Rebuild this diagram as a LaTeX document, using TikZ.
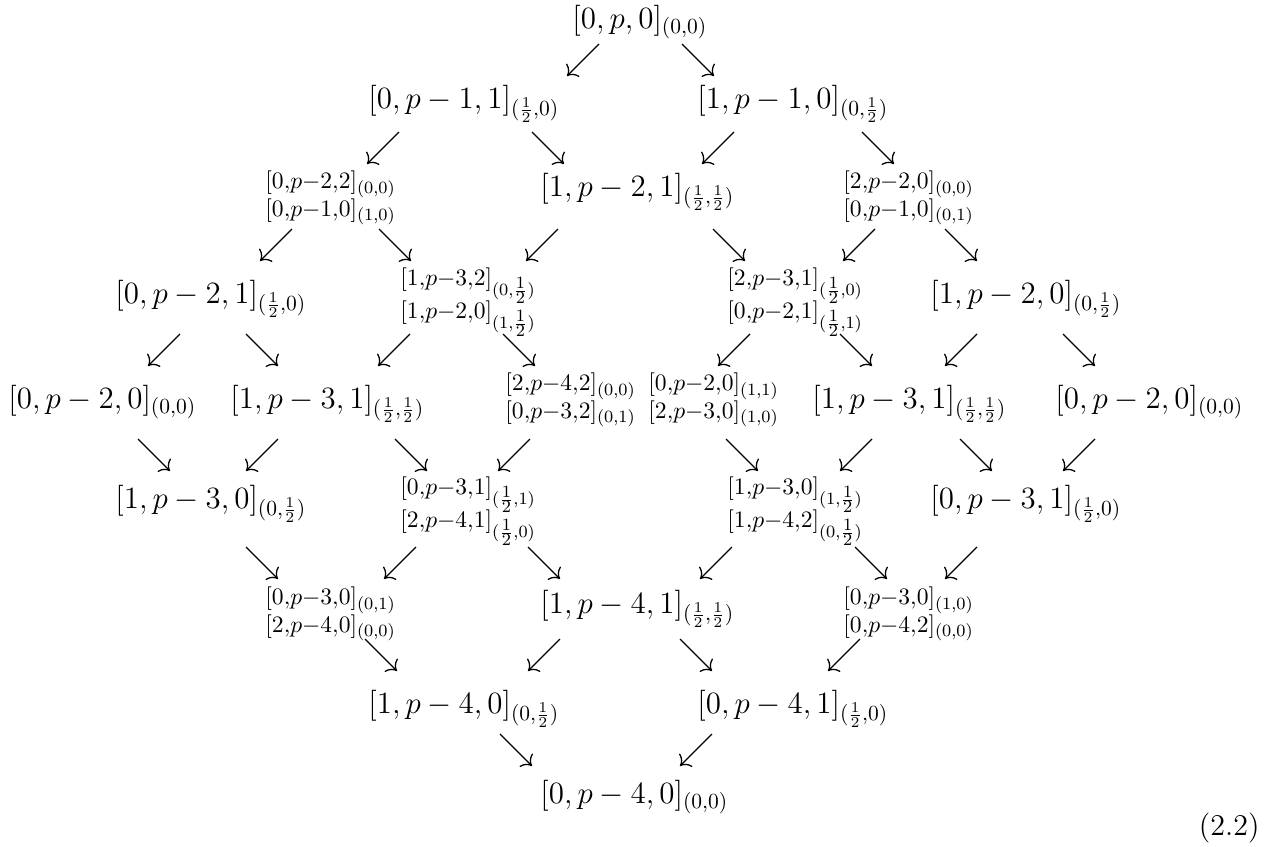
\documentclass[tikz,border=0pt]{standalone}
\usepackage{amsmath}
\usepackage{fontspec}
\usetikzlibrary{arrows.meta}
\DeclareMathSizes{15.5}{15.5}{10.95}{8}

\begin{document}
\begin{tikzpicture}[x=0.465pt,y=0.465pt,yscale=-1]
\tikzset{
  ent/.style={anchor=base west, inner sep=0pt, font=\Large},
  pair/.style={anchor=west, inner sep=0pt, align=left,
    font=\fontsize{15.5}{12.8}\selectfont,
    execute at begin node={\lineskiplimit=-20pt\relax}},
  pairf/.style={pair, font=\fontsize{15.5}{15.2}\selectfont},
  arr/.style={-{To[scale=1.4]}, line width=0.6pt}
}
\useasboundingbox (0,0) rectangle (1274,846);

% Text Node
\draw (572,28) node (t) [ent] {$[0,p,0]_{(0,0)}$};
% Text Node
\draw (368,108) node (a1) [ent] {$[0,p-1,1]_{(\frac12,0)}$};
% Text Node
\draw (697,108) node (a2) [ent] {$[1,p-1,0]_{(0,\frac12)}$};
% Text Node
\draw (265,198) node (b1) [pair] {$\scriptstyle[0,p-2,2]_{(0,0)}$\\$\scriptstyle[0,p-1,0]_{(1,0)}$};
% Text Node
\draw (540,196) node (b2) [ent] {$[1,p-2,1]_{(\frac12,\frac12)}$};
% Text Node
\draw (843,198) node (b3) [pair] {$\scriptstyle[2,p-2,0]_{(0,0)}$\\$\scriptstyle[0,p-1,0]_{(0,1)}$};
% Text Node
\draw (115,303) node (c1) [ent] {$[0,p-2,1]_{(\frac12,0)}$};
% Text Node
\draw (400,302) node (c2) [pairf] {$\scriptstyle[1,p-3,2]_{(0,\frac12)}$\\$\scriptstyle[1,p-2,0]_{(1,\frac12)}$};
% Text Node
\draw (727,302) node (c3) [pairf] {$\scriptstyle[2,p-3,1]_{(\frac12,0)}$\\$\scriptstyle[0,p-2,1]_{(\frac12,1)}$};
% Text Node
\draw (930,303) node (c4) [ent] {$[1,p-2,0]_{(0,\frac12)}$};
% Text Node
\draw (8,408) node (d1) [ent] {$[0,p-2,0]_{(0,0)}$};
% Text Node
\draw (230,408) node (d2) [ent] {$[1,p-3,1]_{(\frac12,\frac12)}$};
% Text Node
\draw (505,400) node (d3) [pair] {$\scriptstyle[2,p-4,2]_{(0,0)}$\\$\scriptstyle[0,p-3,2]_{(0,1)}$};
% Text Node
\draw (648,400) node (d4) [pair] {$\scriptstyle[0,p-2,0]_{(1,1)}$\\$\scriptstyle[2,p-3,0]_{(1,0)}$};
% Text Node
\draw (812,408) node (d5) [ent] {$[1,p-3,1]_{(\frac12,\frac12)}$};
% Text Node
\draw (1055,408) node (d6) [ent] {$[0,p-2,0]_{(0,0)}$};
% Text Node
\draw (115,508) node (e1) [ent] {$[1,p-3,0]_{(0,\frac12)}$};
% Text Node
\draw (400,511) node (e2) [pairf] {$\scriptstyle[0,p-3,1]_{(\frac12,1)}$\\$\scriptstyle[2,p-4,1]_{(\frac12,0)}$};
% Text Node
\draw (727,511) node (e3) [pairf] {$\scriptstyle[1,p-3,0]_{(1,\frac12)}$\\$\scriptstyle[1,p-4,2]_{(0,\frac12)}$};
% Text Node
\draw (930,508) node (e4) [ent] {$[0,p-3,1]_{(\frac12,0)}$};
% Text Node
\draw (265,614) node (f1) [pair] {$\scriptstyle[0,p-3,0]_{(0,1)}$\\$\scriptstyle[2,p-4,0]_{(0,0)}$};
% Text Node
\draw (540,613) node (f2) [ent] {$[1,p-4,1]_{(\frac12,\frac12)}$};
% Text Node
\draw (843,614) node (f3) [pair] {$\scriptstyle[0,p-3,0]_{(1,0)}$\\$\scriptstyle[0,p-4,2]_{(0,0)}$};
% Text Node
\draw (368,713) node (g1) [ent] {$[1,p-4,0]_{(0,\frac12)}$};
% Text Node
\draw (697,713) node (g2) [ent] {$[0,p-4,1]_{(\frac12,0)}$};
% Text Node
\draw (540,803) node (h) [ent] {$[0,p-4,0]_{(0,0)}$};
% Text Node
\draw (1260,835) node (eqno) [anchor=base east, inner sep=0pt, font=\fontsize{14}{16}\selectfont] {(2.2)};

% down-left arrows
\draw [arr] (599,44) coordinate (sw1) -- ++(-32,32) ;
\draw [arr] (399,132) coordinate (sw2) -- ++(-32,32) ;
\draw [arr] (734,132) coordinate (sw3) -- ++(-32,32) ;
\draw [arr] (292,229) coordinate (sw4) -- ++(-32,32) ;
\draw [arr] (558,229) coordinate (sw5) -- ++(-32,32) ;
\draw [arr] (875,229) coordinate (sw6) -- ++(-32,32) ;
\draw [arr] (180,334) coordinate (sw7) -- ++(-32,32) ;
\draw [arr] (410,334) coordinate (sw8) -- ++(-32,32) ;
\draw [arr] (750,334) coordinate (sw9) -- ++(-32,32) ;
\draw [arr] (977,334) coordinate (sw10) -- ++(-32,32) ;
\draw [arr] (278,439) coordinate (sw11) -- ++(-32,32) ;
\draw [arr] (530,439) coordinate (sw12) -- ++(-32,32) ;
\draw [arr] (872,439) coordinate (sw13) -- ++(-32,32) ;
\draw [arr] (1095,439) coordinate (sw14) -- ++(-32,32) ;
\draw [arr] (416,547) coordinate (sw15) -- ++(-32,32) ;
\draw [arr] (732,547) coordinate (sw16) -- ++(-32,32) ;
\draw [arr] (977,547) coordinate (sw17) -- ++(-32,32) ;
\draw [arr] (560,639) coordinate (sw18) -- ++(-32,32) ;
\draw [arr] (860,639) coordinate (sw19) -- ++(-32,32) ;
\draw [arr] (712,734) coordinate (sw20) -- ++(-32,32) ;

% down-right arrows
\draw [arr] (682,44) coordinate (se1) -- ++(32,32) ;
\draw [arr] (532,132) coordinate (se2) -- ++(32,32) ;
\draw [arr] (862,132) coordinate (se3) -- ++(32,32) ;
\draw [arr] (379,229) coordinate (se4) -- ++(32,32) ;
\draw [arr] (713,229) coordinate (se5) -- ++(32,32) ;
\draw [arr] (945,229) coordinate (se6) -- ++(32,32) ;
\draw [arr] (246,334) coordinate (se7) -- ++(32,32) ;
\draw [arr] (503,334) coordinate (se8) -- ++(32,32) ;
\draw [arr] (840,334) coordinate (se9) -- ++(32,32) ;
\draw [arr] (1063,334) coordinate (se10) -- ++(32,32) ;
\draw [arr] (138,439) coordinate (se11) -- ++(32,32) ;
\draw [arr] (395,439) coordinate (se12) -- ++(32,32) ;
\draw [arr] (726,439) coordinate (se13) -- ++(32,32) ;
\draw [arr] (960,439) coordinate (se14) -- ++(32,32) ;
\draw [arr] (246,547) coordinate (se15) -- ++(32,32) ;
\draw [arr] (528,547) coordinate (se16) -- ++(32,32) ;
\draw [arr] (855,547) coordinate (se17) -- ++(32,32) ;
\draw [arr] (365,639) coordinate (se18) -- ++(32,32) ;
\draw [arr] (680,639) coordinate (se19) -- ++(32,32) ;
\draw [arr] (500,734) coordinate (se20) -- ++(32,32) ;

\end{tikzpicture}
\end{document}
